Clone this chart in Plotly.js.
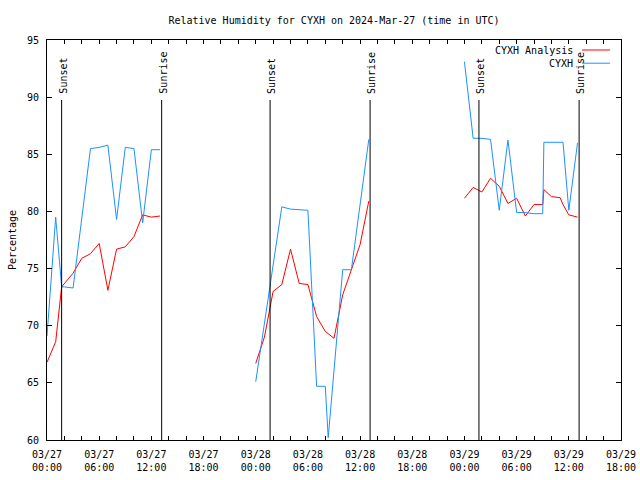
<!DOCTYPE html>
<html>
<head>
<meta charset="utf-8">
<script src="https://cdn.plot.ly/plotly-3.0.1.min.js"></script>
<style>html,body{margin:0;padding:0;background:#fff;}#chart{width:640px;height:480px;}</style>
</head>
<body>
<div id="chart"></div>
<script>
// Observations (CYXH), blue
const obsTimes = [
  '2024-03-27 00:00','2024-03-27 01:00','2024-03-27 01:41','2024-03-27 02:00','2024-03-27 03:00',
  '2024-03-27 05:00','2024-03-27 06:00','2024-03-27 07:00','2024-03-27 08:00','2024-03-27 09:00',
  '2024-03-27 10:00','2024-03-27 11:00','2024-03-27 12:00','2024-03-27 13:00',
  '2024-03-27 18:00',
  '2024-03-28 00:00','2024-03-28 03:00','2024-03-28 04:00','2024-03-28 06:00','2024-03-28 07:00',
  '2024-03-28 08:00','2024-03-28 08:20','2024-03-28 10:00','2024-03-28 11:00','2024-03-28 13:00',
  '2024-03-28 18:00',
  '2024-03-29 00:00','2024-03-29 01:00','2024-03-29 02:00','2024-03-29 03:00','2024-03-29 04:00',
  '2024-03-29 05:00','2024-03-29 06:00','2024-03-29 07:00','2024-03-29 08:00','2024-03-29 09:00',
  '2024-03-29 09:08','2024-03-29 11:20','2024-03-29 12:00','2024-03-29 13:00'
];
const obsValues = [
  69.1, 79.5, 73.4, 73.4, 73.3,
  85.5, 85.6, 85.8, 79.3, 85.6,
  85.5, 79.0, 85.4, 85.4,
  null,
  65.1, 80.4, 80.2, 80.1, 64.7,
  64.7, 60.2, 74.9, 74.9, 86.3,
  null,
  93.1, 86.4, 86.4, 86.3, 80.1,
  86.25, 79.9, 79.9, 79.8, 79.8,
  86.05, 86.05, 80.1, 86.0
];

// Analysis (CYXH Analysis), red
const anaTimes = [
  '2024-03-27 00:00','2024-03-27 01:00','2024-03-27 01:41','2024-03-27 02:00','2024-03-27 03:00',
  '2024-03-27 04:00','2024-03-27 05:00','2024-03-27 06:00','2024-03-27 07:00','2024-03-27 08:00',
  '2024-03-27 09:00','2024-03-27 10:00','2024-03-27 11:00','2024-03-27 12:00','2024-03-27 13:00',
  '2024-03-27 18:00',
  '2024-03-28 00:00','2024-03-28 01:00','2024-03-28 02:00','2024-03-28 03:00','2024-03-28 04:00',
  '2024-03-28 05:00','2024-03-28 06:00','2024-03-28 07:00','2024-03-28 08:00','2024-03-28 09:00',
  '2024-03-28 10:00','2024-03-28 11:00','2024-03-28 12:00','2024-03-28 13:00',
  '2024-03-28 18:00',
  '2024-03-29 00:00','2024-03-29 01:00','2024-03-29 02:00','2024-03-29 03:00','2024-03-29 04:00',
  '2024-03-29 05:00','2024-03-29 06:00','2024-03-29 07:00','2024-03-29 08:00','2024-03-29 09:00',
  '2024-03-29 09:08','2024-03-29 10:00','2024-03-29 11:00','2024-03-29 11:20','2024-03-29 12:00',
  '2024-03-29 13:00'
];
const anaValues = [
  66.8, 68.6, 73.4, 73.7, 74.6,
  75.9, 76.3, 77.2, 73.1, 76.7,
  76.9, 77.8, 79.7, 79.5, 79.6,
  null,
  66.7, 69.0, 73.0, 73.6, 76.7,
  73.7, 73.6, 70.8, 69.5, 68.9,
  72.7, 74.9, 77.1, 80.9,
  null,
  81.15, 82.1, 81.7, 82.9, 82.2,
  80.7, 81.15, 79.6, 80.6, 80.6,
  81.9, 81.3, 81.2, 80.6, 79.7,
  79.5
];

const sunsetTimes = ['2024-03-27 01:41','2024-03-28 01:39','2024-03-29 01:40'];
const sunriseTimes = ['2024-03-27 13:11','2024-03-28 13:09','2024-03-29 13:11'];

const seriesNames = ['CYXH Analysis', 'CYXH'];
const seriesColors = ['#ff0000', '#1e90ff'];

const FONT = 'DejaVu Sans Mono, monospace';

const traces = [
  {x: anaTimes, y: anaValues, type: 'scatter', mode: 'lines', name: seriesNames[0],
   line: {color: seriesColors[0], width: 1}, connectgaps: false},
  {x: obsTimes, y: obsValues, type: 'scatter', mode: 'lines', name: seriesNames[1],
   line: {color: seriesColors[1], width: 1}, connectgaps: false}
];

const shapes = [];
const annotations = [];
function addMarker(t, label) {
  shapes.push({type: 'line', xref: 'x', yref: 'paper', x0: t, x1: t, y0: 0, y1: 0.85,
    line: {color: '#000', width: 1}, layer: 'above'});
  annotations.push({x: t, y: 0.85, xref: 'x', yref: 'paper', text: label, showarrow: false,
    textangle: -90, xanchor: 'center', yanchor: 'bottom', yshift: 4, xshift: 1,
    font: {family: FONT, size: 10, color: '#000'}});
}
sunsetTimes.forEach(t => addMarker(t, 'Sunset'));
sunriseTimes.forEach(t => addMarker(t, 'Sunrise'));

// gnuplot-style legend: text right-aligned, sample line to its right
const legY = [0.975, 0.942];
seriesNames.forEach((n, i) => {
  annotations.push({x: 0.92, y: legY[i], xref: 'paper', yref: 'paper', text: n, showarrow: false,
    xanchor: 'right', yanchor: 'middle', font: {family: FONT, size: 10, color: '#000'}});
  shapes.push({type: 'line', xref: 'paper', yref: 'paper', x0: 0.932, x1: 0.981, y0: legY[i], y1: legY[i],
    line: {color: seriesColors[i], width: 1}});
});

const layout = {
  width: 640, height: 480,
  margin: {l: 47, r: 19, t: 40, b: 40, pad: 0},
  paper_bgcolor: '#fff', plot_bgcolor: '#fff',
  showlegend: false,
  font: {family: FONT, size: 10, color: '#000'},
  title: {text: 'Relative Humidity for CYXH on 2024-Mar-27 (time in UTC)', x: 0.5, xref: 'paper',
    y: 1 - 20/480, yref: 'container', yanchor: 'middle', font: {family: FONT, size: 10, color: '#000'}},
  xaxis: {
    type: 'date', range: ['2024-03-27 00:00', '2024-03-29 18:00'],
    tick0: '2024-03-27 00:00', dtick: 6*3600*1000, tickformat: '%m/%d<br>%H:%M',
    ticks: 'inside', ticklen: 4, tickcolor: '#000', showline: true, linecolor: '#000', linewidth: 1,
    mirror: 'ticks', showgrid: false, zeroline: false, automargin: false, ticklabelstandoff: 5,
    minor: {dtick: 2*3600*1000, ticks: 'inside', ticklen: 4, tickcolor: '#000', showgrid: false},
    tickfont: {family: FONT, size: 10, color: '#000'}
  },
  yaxis: {
    range: [60, 95], dtick: 5, tick0: 60,
    ticks: 'inside', ticklen: 5, tickcolor: '#000', showline: true, linecolor: '#000', linewidth: 1,
    mirror: 'ticks', showgrid: false, zeroline: false, automargin: false, ticklabelstandoff: 5,
    title: {text: 'Percentage', standoff: 8, font: {family: FONT, size: 10, color: '#000'}},
    tickfont: {family: FONT, size: 10, color: '#000'}
  },
  shapes: shapes,
  annotations: annotations
};

Plotly.newPlot('chart', traces, layout, {displayModeBar: false, staticPlot: true});
</script>
</body>
</html>
